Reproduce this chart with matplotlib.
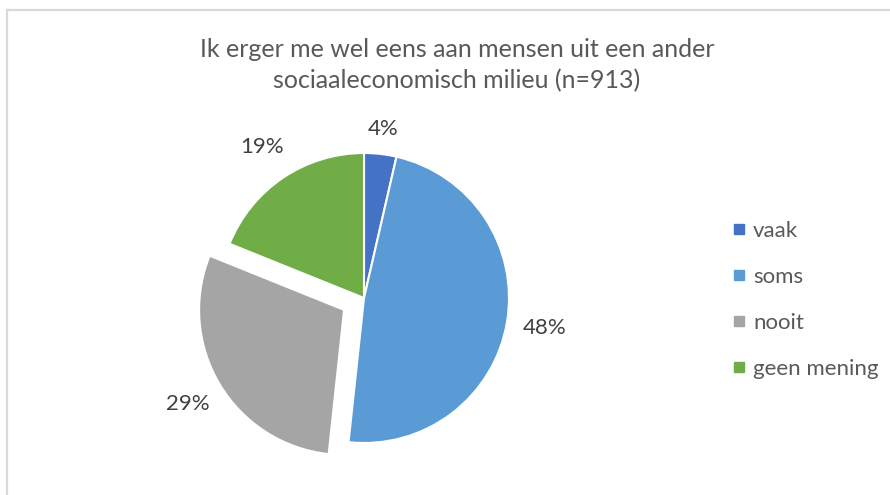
import matplotlib.pyplot as plt
from matplotlib.lines import Line2D

_FONT = 'Lato'
_TEXT = '#595959'
_LABEL = '#404040'
_BORDER = '#d9d9d9'

categories = ['vaak', 'soms', 'nooit', 'geen mening']
values = [3.6, 48.1, 29.4, 18.9]
colors = ['#4472c4', '#5b9bd5', '#a5a5a5', '#70ad47']
explode = [0, 0, 0.16, 0]

title = 'Ik erger me wel eens aan mensen uit een ander\nsociaaleconomisch milieu (n=913)'

plt.rcParams['font.family'] = [_FONT, 'DejaVu Sans']

W, H = 890, 495
fig = plt.figure(figsize=(W / 100, H / 100), dpi=100, facecolor='white')

# chart frame (only top and left edge visible in the crop)
fig.add_artist(Line2D([6.5 / W, 6.5 / W], [0, 1 - 10 / H], transform=fig.transFigure,
                      color=_BORDER, lw=1.6))
fig.add_artist(Line2D([6.5 / W, 1], [1 - 10 / H, 1 - 10 / H], transform=fig.transFigure,
                      color=_BORDER, lw=1.6))

fig.text(457 / W, 1 - 65 / H, title, ha='center', va='center', fontsize=18,
         color=_TEXT, linespacing=1.45)

# pie axes: centre (364, 298) px, radius 145 px
cx, cy, r = 364, 298, 145
side = 3 * r
ax = fig.add_axes([(cx - side / 2) / W, (H - cy - side / 2) / H, side / W, side / H])

wedges, texts, autotexts = ax.pie(
    values, colors=colors, explode=explode, startangle=90, counterclock=False,
    autopct='%.0f%%', pctdistance=1.26,
    wedgeprops=dict(edgecolor='white', linewidth=1.5),
    textprops=dict(fontsize=16, color=_LABEL))
ax.set_xlim(-1.5, 1.5)
ax.set_ylim(-1.5, 1.5)
ax.axis('off')

# small slice label sits a little closer
x, y = autotexts[0].get_position()
autotexts[0].set_position((x * 0.93, y * 0.93))
for t in autotexts:
    t.set_clip_on(False)
for w in wedges:
    w.set_clip_on(False)

handles = [Line2D([], [], marker='s', linestyle='none', markersize=7,
                  markerfacecolor=c, markeredgecolor=c) for c in colors]
fig.legend(handles, categories, loc='center left', bbox_to_anchor=(722 / W, 1 - 300 / H),
           frameon=False, fontsize=16, labelcolor=_TEXT, handlelength=0.5,
           handletextpad=0.4, labelspacing=1.17, borderpad=0)

fig.savefig('out.png', dpi=100, facecolor='white')
